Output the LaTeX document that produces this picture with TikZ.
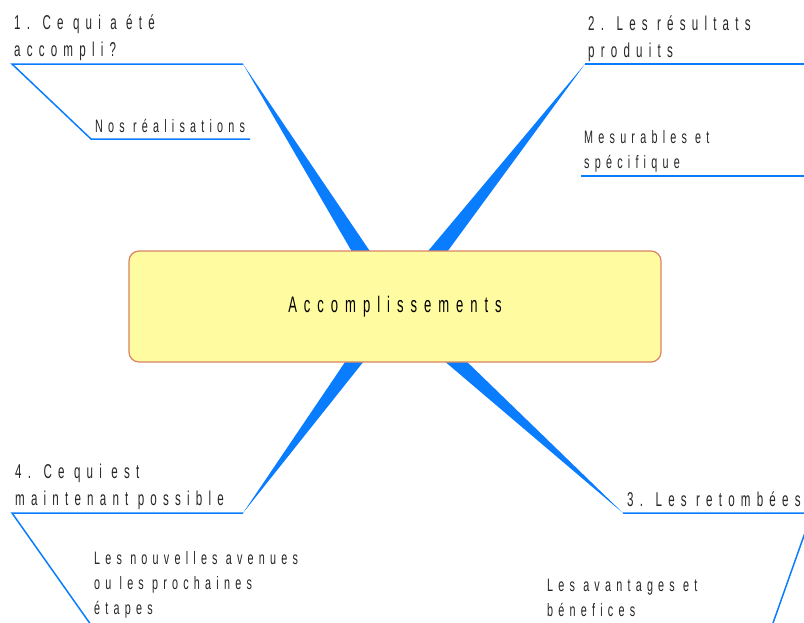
\documentclass[tikz,border=0pt]{standalone}
\usepackage{fontspec}
\setmainfont{Liberation Sans}
\newfontfamily\nar[FakeStretch=0.6,LetterSpace=29]{Liberation Sans}
\newfontfamily\nart[FakeStretch=0.58,LetterSpace=31]{Liberation Sans}
\newfontfamily\narc[FakeStretch=0.58,LetterSpace=31]{Liberation Sans}
\usetikzlibrary{calc}
\definecolor{mmblue}{RGB}{10,125,255}
\definecolor{boxfill}{RGB}{255,251,160}
\definecolor{boxedge}{RGB}{218,130,100}
\tikzset{
  branch/.style={draw=mmblue,line width=1.5pt},
  wedge/.style={fill=mmblue},
  lbl/.style={inner sep=0pt,anchor=base west,align=left,font=\nart\fontsize{20}{27}\selectfont,text=black!85},
  sublbl/.style={lbl,font=\nar\fontsize{18}{25}\selectfont},
  mainbox/.style={draw=boxedge,fill=boxfill,line width=1.2pt,rounded corners=10pt,minimum width=532pt,minimum height=111pt,inner sep=0pt,font=\narc\fontsize{22.5}{26}\selectfont}
}
\begin{document}
\begin{tikzpicture}[x=1pt,y=-1pt]
\useasboundingbox (0,0) rectangle (804,622);
\clip (0,0) rectangle (804,622);
\coordinate (c) at (395,306);
\coordinate (t1) at (243,64);
\coordinate (t2) at (585,64);
\coordinate (t3) at (623,513);
\coordinate (t4) at (243,513);
% wedges
\foreach \t in {t1,t2,t3,t4}{
  \fill[wedge] (\t) -- ($(c)!10pt!90:(\t)$) -- ($(c)!10pt!-90:(\t)$) -- cycle;
}
% branch 1
\coordinate (b1a) at (12,64);
\coordinate (b1b) at (91,139);
\coordinate (b1c) at (250,139);
\draw[branch] (t1) -- (b1a) -- (b1b) -- (b1c);
% branch 2
\coordinate (b2a) at (812,64);
\coordinate (b2b) at (581,176);
\coordinate (b2c) at (812,176);
\draw[branch] (t2) -- (b2a);
\draw[branch] (b2b) -- (b2c);
% branch 3
\coordinate (b3a) at (812,513);
\coordinate (b3b) at (767,640);
\draw[branch] (t3) -- (b3a) -- (b3b);
% branch 4
\coordinate (b4a) at (12,513);
\coordinate (b4b) at (96,632);
\draw[branch] (t4) -- (b4a) -- (b4b);
% central box
\node[mainbox] (main) at (395,306.5) {Accomplissements};
% labels (anchored at the baseline of the last line)
\node[lbl] (n1) at (14,56) {1. Ce qui a été\\accompli?};
\node[sublbl] (n1s) at (95,132) {Nos réalisations};
\node[lbl] (n2) at (588,57) {2. Les résultats\\produits};
\node[sublbl] (n2s) at (584,168) {Mesurables et\\spécifique};
\node[lbl] (n3) at (627,506) {3. Les retombées};
\node[sublbl] (n3s) at (547,616) {Les avantages et\\bénefices};
\node[lbl] (n4) at (15,505) {4. Ce qui est\\maintenant possible};
\node[sublbl] (n4s) at (94,614) {Les nouvelles avenues\\ou les prochaines\\étapes};
\end{tikzpicture}
\end{document}
